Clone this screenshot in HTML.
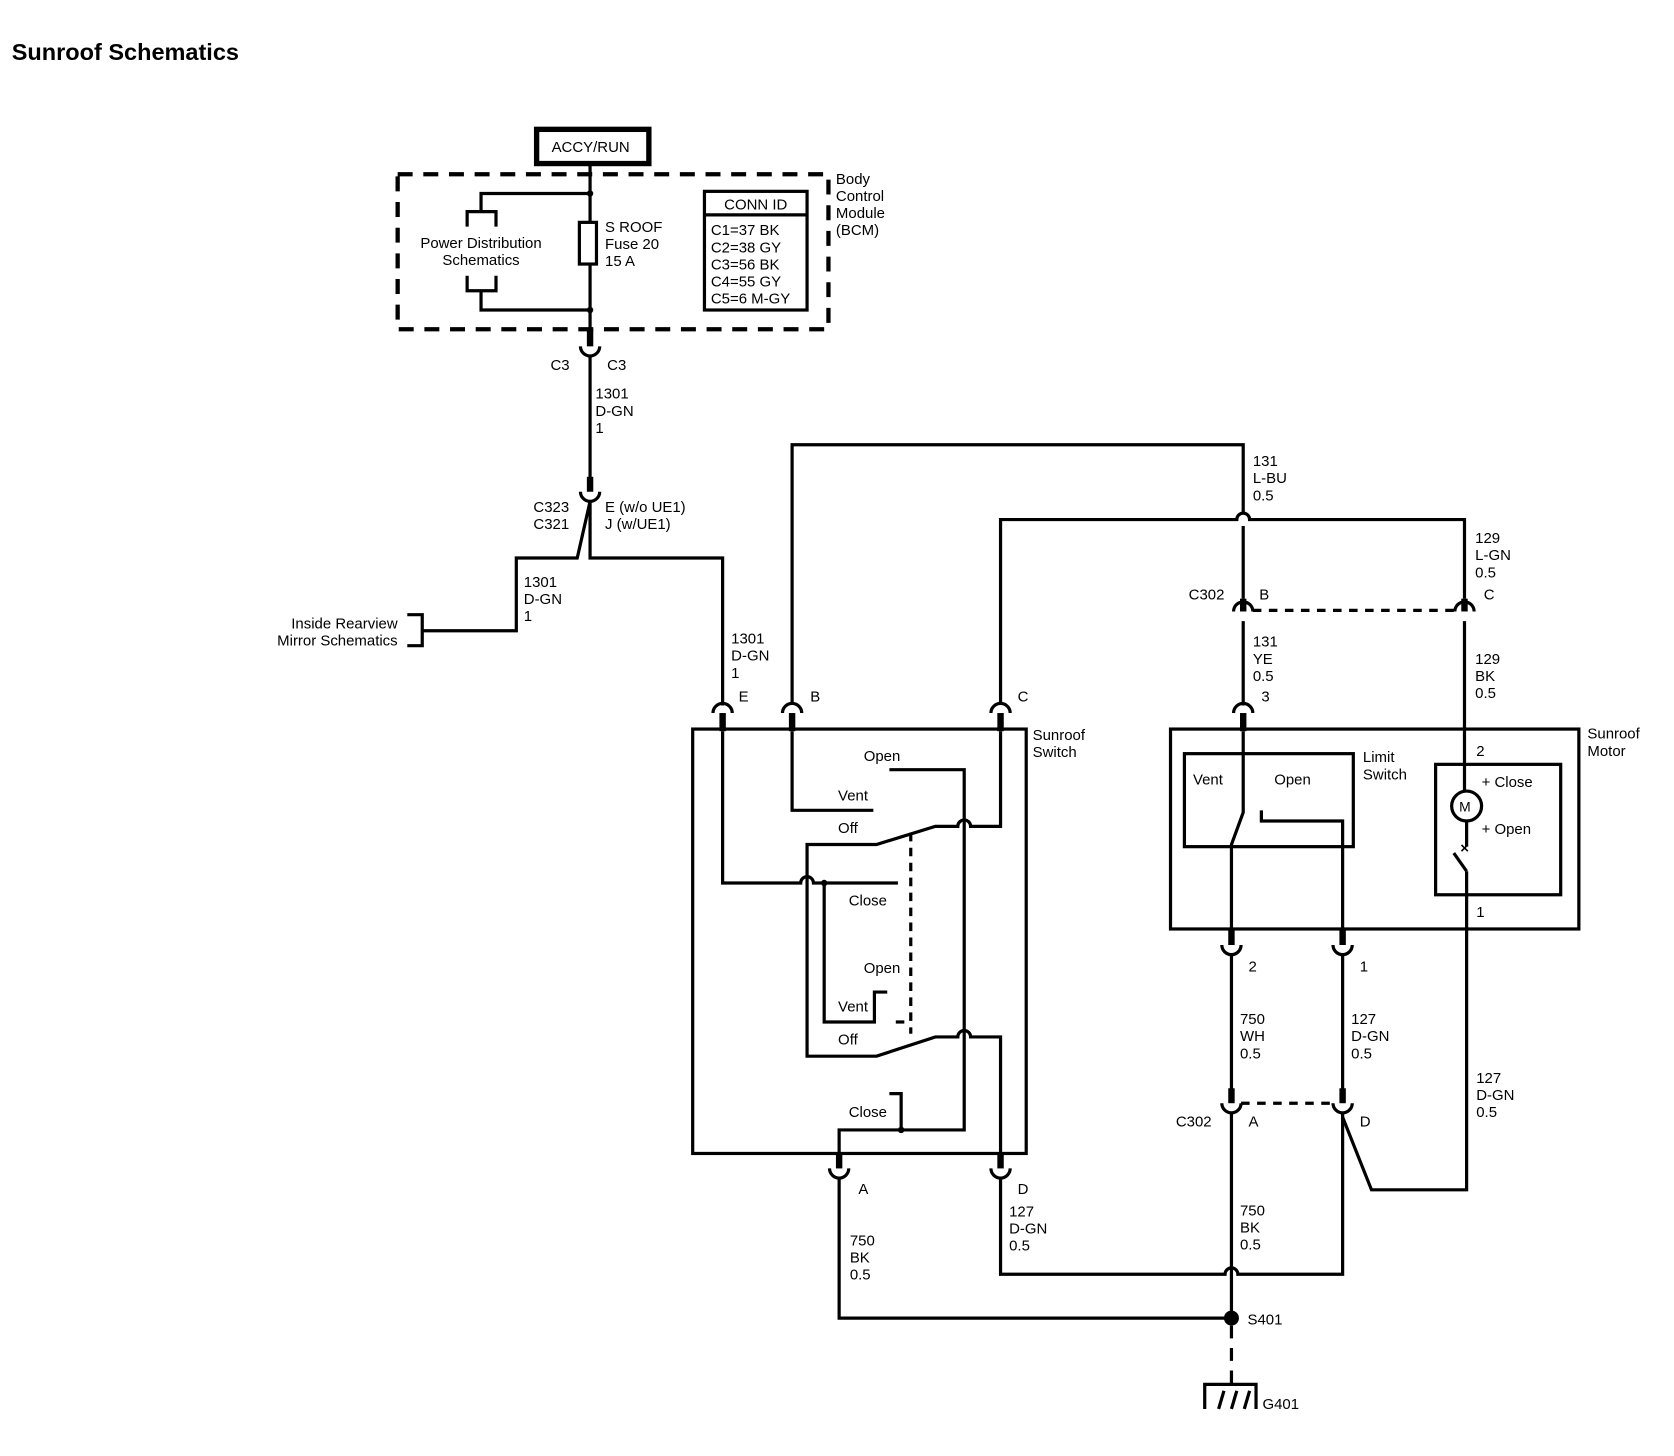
<!DOCTYPE html>
<html><head><meta charset="utf-8"><style>
html,body{margin:0;padding:0;background:#fff;}
svg{display:block;}
text{font-family:"Liberation Sans",sans-serif;font-size:14px;fill:#000;}
</style></head><body>
<svg width="1674" height="1456" viewBox="0 0 1566 1362" preserveAspectRatio="none" xmlns="http://www.w3.org/2000/svg">
<rect width="1566" height="1362" fill="#fff"/>
<text x="11" y="56" style="font-size:22px;font-weight:bold">Sunroof Schematics</text>
<g fill="none" stroke="#000" stroke-width="3">
<rect x="502" y="121" width="105" height="32" stroke-width="5"/>
<rect x="372" y="163" width="403" height="145" stroke-dasharray="14,10" stroke-width="4"/>
<line x1="552" y1="153" x2="552" y2="322"/>
<polyline points="552,181 450,181 450,198"/>
<polyline points="437,212 437,198 464,198 464,212"/>
<polyline points="437,258 437,272 464,272 464,258"/>
<polyline points="450,272 450,290 552,290"/>
<rect x="542" y="208" width="16" height="39" fill="#fff"/>
<rect x="659" y="179" width="96" height="111"/>
<line x1="659" y1="201" x2="755" y2="201"/>
<line x1="552" y1="308" x2="552" y2="324" stroke-width="6"/>
<path d="M543,324 A9,9 0 0 0 561,324"/>
<line x1="552" y1="333" x2="552" y2="450"/>
<line x1="552" y1="446" x2="552" y2="460" stroke-width="6"/>
<path d="M543,460 A9,9 0 0 0 561,460"/>
<polyline points="552,469 540,522 483,522 483,590 395,590"/>
<polyline points="381,575 395,575 395,604 381,604"/>
<polyline points="552,469 552,522 676,522 676,660"/>
<path d="M667,667 A9,9 0 0 1 685,667"/>
<path d="M732,667 A9,9 0 0 1 750,667"/>
<path d="M927,667 A9,9 0 0 1 945,667"/>
<line x1="676" y1="667" x2="676" y2="684" stroke-width="6"/>
<line x1="741" y1="667" x2="741" y2="684" stroke-width="6"/>
<line x1="936" y1="667" x2="936" y2="684" stroke-width="6"/>
<polyline points="741,658 741,416 1163,416 1163,480"/>
<path d="M1163,492 L1163,560"/>
<path d="M936,658 L936,486 L1157,486 A6,6 0 0 1 1169,486 L1370,486 L1370,560"/>
<line x1="1163" y1="560" x2="1163" y2="572" stroke-width="6"/>
<path d="M1154,572 A9,9 0 0 1 1172,572"/>
<line x1="1370" y1="560" x2="1370" y2="572" stroke-width="6"/>
<path d="M1361,572 A9,9 0 0 1 1379,572"/>
<line x1="1172" y1="571" x2="1361" y2="571" stroke-dasharray="8,7"/>
<line x1="1163" y1="581" x2="1163" y2="660"/>
<path d="M1154,667 A9,9 0 0 1 1172,667"/>
<line x1="1163" y1="667" x2="1163" y2="684" stroke-width="6"/>
<line x1="1370" y1="581" x2="1370" y2="740"/>
<rect x="648" y="682" width="312" height="397"/>
<polyline points="741,684 741,758 817,758"/>
<polyline points="832,720 902,720 902,1057 785,1057 785,1085"/>
<path d="M936,684 L936,773 L908,773 A6,6 0 0 0 896,773 L875,773 L820,790 L755,790 L755,988 L820,988 L875,970 L896,970 A6,6 0 0 1 908,970 L936,970 L936,1085"/>
<path d="M676,684 L676,826 L749,826 A6,6 0 0 1 761,826 L840,826"/>
<polyline points="771,826 771,956 818,956 818,928 830,928"/>
<line x1="838" y1="956" x2="846" y2="956"/>
<line x1="852" y1="779" x2="852" y2="967" stroke-dasharray="8,6"/>
<polyline points="832,1023 843,1023 843,1057"/>
<line x1="785" y1="1079" x2="785" y2="1093" stroke-width="6"/>
<path d="M776,1093 A9,9 0 0 0 794,1093"/>
<line x1="936" y1="1079" x2="936" y2="1093" stroke-width="6"/>
<path d="M927,1093 A9,9 0 0 0 945,1093"/>
<polyline points="785,1102 785,1233 1152,1233"/>
<path d="M936,1102 L936,1192 L1146,1192 A6,6 0 0 1 1158,1192 L1256,1192 L1256,1042"/>
<line x1="1152" y1="1240" x2="1152" y2="1295" stroke-dasharray="12,9"/>
<polyline points="1127,1318 1127,1295 1175,1295 1175,1318"/>
<line x1="1140" y1="1318" x2="1145" y2="1301"/><line x1="1152" y1="1318" x2="1157" y2="1301"/><line x1="1164" y1="1318" x2="1169" y2="1301"/>
<rect x="1095" y="682" width="382" height="187"/>
<rect x="1108" y="705" width="158" height="87"/>
<polyline points="1163,684 1163,760 1152,790 1152,875"/>
<polyline points="1180,758 1180,768 1256,768 1256,875"/>
<rect x="1343" y="715" width="117" height="122"/>
<circle cx="1372" cy="754" r="14" fill="#fff"/>
<line x1="1372" y1="768" x2="1372" y2="792"/>
<line x1="1360" y1="798" x2="1372" y2="815"/>
<polyline points="1372,815 1372,1113 1283,1113 1256,1045"/>
<line x1="1152" y1="869" x2="1152" y2="884" stroke-width="6"/>
<path d="M1143,884 A9,9 0 0 0 1161,884"/>
<line x1="1256" y1="869" x2="1256" y2="884" stroke-width="6"/>
<path d="M1247,884 A9,9 0 0 0 1265,884"/>
<line x1="1152" y1="893" x2="1152" y2="1020"/>
<line x1="1256" y1="893" x2="1256" y2="1020"/>
<line x1="1152" y1="1018" x2="1152" y2="1032" stroke-width="6"/>
<path d="M1143,1032 A9,9 0 0 0 1161,1032"/>
<line x1="1256" y1="1018" x2="1256" y2="1032" stroke-width="6"/>
<path d="M1247,1032 A9,9 0 0 0 1265,1032"/>
<line x1="1161" y1="1032" x2="1247" y2="1032" stroke-dasharray="8,7"/>
<line x1="1152" y1="1041" x2="1152" y2="1233"/>
</g>
<circle cx="552" cy="181" r="3"/><circle cx="552" cy="290" r="3"/>
<circle cx="771" cy="826" r="3"/><circle cx="843" cy="1057" r="3"/>
<circle cx="1152" cy="1233" r="7"/>
<text x="1366" y="798" style="font-size:14px;font-weight:bold">×</text>
<text x="1365" y="759" style="font-size:13px">M</text>
<g>
<text x="516" y="142">ACCY/RUN</text>
<text x="450" y="232" text-anchor="middle">Power Distribution</text>
<text x="450" y="248" text-anchor="middle">Schematics</text>
<text x="566" y="217">S ROOF</text><text x="566" y="233">Fuse 20</text><text x="566" y="249">15 A</text>
<text x="707" y="196" text-anchor="middle">CONN ID</text>
<text x="665" y="220">C1=37 BK</text><text x="665" y="236">C2=38 GY</text><text x="665" y="252">C3=56 BK</text><text x="665" y="268">C4=55 GY</text><text x="665" y="284">C5=6 M-GY</text>
<text x="782" y="172">Body</text><text x="782" y="188">Control</text><text x="782" y="204">Module</text><text x="782" y="220">(BCM)</text>
<text x="515" y="346">C3</text><text x="568" y="346">C3</text>
<text x="557" y="373">1301</text><text x="557" y="389">D-GN</text><text x="557" y="405">1</text>
<text x="499" y="479">C323</text><text x="499" y="495">C321</text>
<text x="566" y="479">E (w/o UE1)</text><text x="566" y="495">J (w/UE1)</text>
<text x="490" y="549">1301</text><text x="490" y="565">D-GN</text><text x="490" y="581">1</text>
<text x="372" y="588" text-anchor="end">Inside Rearview</text><text x="372" y="604" text-anchor="end">Mirror Schematics</text>
<text x="684" y="602">1301</text><text x="684" y="618">D-GN</text><text x="684" y="634">1</text>
<text x="691" y="656">E</text><text x="758" y="656">B</text><text x="952" y="656">C</text>
<text x="1172" y="436">131</text><text x="1172" y="452">L-BU</text><text x="1172" y="468">0.5</text>
<text x="1380" y="508">129</text><text x="1380" y="524">L-GN</text><text x="1380" y="540">0.5</text>
<text x="1112" y="561">C302</text><text x="1178" y="561">B</text><text x="1388" y="561">C</text>
<text x="1172" y="605">131</text><text x="1172" y="621">YE</text><text x="1172" y="637">0.5</text><text x="1180" y="656">3</text>
<text x="1380" y="621">129</text><text x="1380" y="637">BK</text><text x="1380" y="653">0.5</text>
<text x="966" y="692">Sunroof</text><text x="966" y="708">Switch</text>
<text x="808" y="712">Open</text><text x="784" y="749">Vent</text><text x="784" y="779">Off</text>
<text x="794" y="847">Close</text><text x="808" y="910">Open</text><text x="784" y="946">Vent</text><text x="784" y="977">Off</text>
<text x="794" y="1045">Close</text>
<text x="803" y="1117">A</text><text x="952" y="1117">D</text>
<text x="795" y="1165">750</text><text x="795" y="1181">BK</text><text x="795" y="1197">0.5</text>
<text x="944" y="1138">127</text><text x="944" y="1154">D-GN</text><text x="944" y="1170">0.5</text>
<text x="1167" y="1239">S401</text><text x="1181" y="1318">G401</text>
<text x="1485" y="691">Sunroof</text><text x="1485" y="707">Motor</text>
<text x="1275" y="713">Limit</text><text x="1275" y="729">Switch</text>
<text x="1116" y="734">Vent</text><text x="1192" y="734">Open</text>
<text x="1381" y="707">2</text><text x="1386" y="736">+ Close</text><text x="1386" y="780">+ Open</text><text x="1381" y="858">1</text>
<text x="1168" y="909">2</text><text x="1272" y="909">1</text>
<text x="1160" y="958">750</text><text x="1160" y="974">WH</text><text x="1160" y="990">0.5</text>
<text x="1264" y="958">127</text><text x="1264" y="974">D-GN</text><text x="1264" y="990">0.5</text>
<text x="1381" y="1013">127</text><text x="1381" y="1029">D-GN</text><text x="1381" y="1045">0.5</text>
<text x="1100" y="1054">C302</text><text x="1168" y="1054">A</text><text x="1272" y="1054">D</text>
<text x="1160" y="1137">750</text><text x="1160" y="1153">BK</text><text x="1160" y="1169">0.5</text>
</g>
</svg>
</body></html>
